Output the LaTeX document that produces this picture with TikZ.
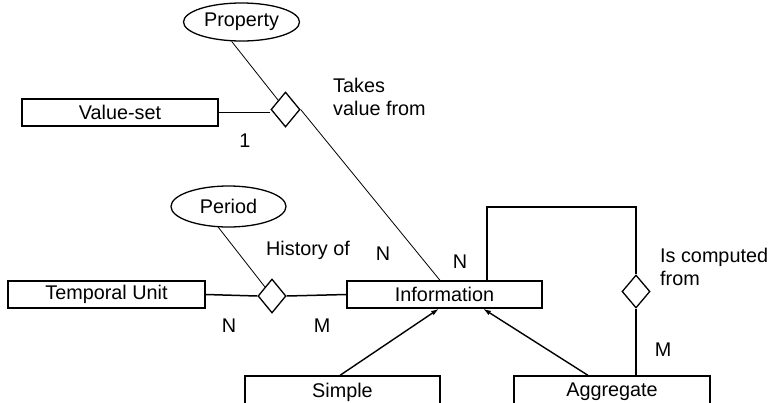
\documentclass[tikz,border=0pt]{standalone}
\usepackage{fontspec}
\setmainfont{Liberation Sans}
\usetikzlibrary{shapes.geometric,arrows.meta,calc}
\begin{document}
\begin{tikzpicture}[x=1pt,y=-1pt,
  every node/.style={font=\fontsize{19.8}{23}\selectfont, inner sep=0pt},
  entity/.style={draw, line width=1.3pt, rectangle, minimum height=27pt},
  attr/.style={draw, line width=1.3pt, ellipse},
  rel/.style={draw, line width=1.3pt, diamond},
  thinln/.style={line width=0.8pt},
  thickln/.style={line width=1.5pt},
  isa/.style={line width=1.4pt, -{Latex[length=8pt,width=5pt]}},
  lbl/.style={}]
\useasboundingbox (0,0) rectangle (771,402);
\clip (0,0) rectangle (771,402);

% nodes
\node[attr, minimum width=116pt, minimum height=38pt] (property) at (241.5,22) {Property};
\node[entity, minimum width=196pt] (valueset) at (120,112.5) {Value-set};
\node[rel, minimum width=29pt, minimum height=35pt] (d1) at (285.5,109.5) {};
\node[lbl, align=left, anchor=west] (takes) at (333,97) {Takes\\value from};
\node[lbl] (one) at (245,141) {1};

\node[attr, minimum width=115pt, minimum height=41pt] (period) at (228.5,206.5) {Period};
\node[entity, minimum width=197pt] (temporal) at (106.5,294.5) {Temporal Unit};
\node[rel, minimum width=28pt, minimum height=34pt] (d2) at (272,296) {};
\node[entity, minimum width=195pt] (info) at (444.5,294.5) {Information};
\node[lbl] (history) at (308,250) {History of};
\node[lbl] (n1) at (383,254) {N};
\node[lbl] (n2) at (460,262) {N};
\node[lbl] (n3) at (229,326) {N};
\node[lbl] (m1) at (322,326) {M};

\node[rel, minimum width=28pt, minimum height=33pt] (d3) at (636,291.5) {};
\node[lbl, align=left, anchor=west] (computed) at (660,266.5) {Is computed\\from};
\node[lbl] (m2) at (663,350) {M};

\node[entity, minimum width=195pt, minimum height=32pt] (simple) at (342.5,392) {Simple};
\node[entity, minimum width=196pt, minimum height=32pt] (aggregate) at (612,392) {Aggregate};

\coordinate (lt) at (487,207);

% connectors
\draw[thinln] (property.243) -- (d1);
\draw[thinln] (d1.east) -- ($(info.north)+(-4.5,0)$);
\draw[thickln] (valueset.east) -- (valueset.east -| d1.west);
\draw[thinln] (period.244) -- (d2);
\draw[thickln] (temporal.east) -- (d2.west);
\draw[thickln] (d2.east) -- (info.west);
\draw[thickln] (info.north -| lt) -- (lt) -| (d3.north);
\draw[thickln] (d3.south) -- (d3.south |- aggregate.north);
\draw[isa] ($(simple.north)+(-2.5,0)$) -- ($(info.south)+(-5.5,0)$);
\draw[isa] ($(aggregate.north)+(-24,0)$) -- ($(info.south)+(38.5,0)$);
\end{tikzpicture}
\end{document}
